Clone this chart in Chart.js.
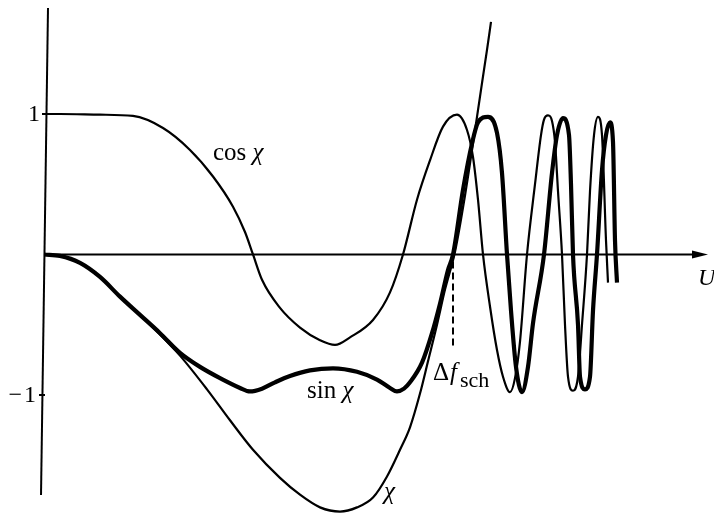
<!DOCTYPE html>
<html>
<head>
<meta charset="utf-8">
<script src="https://cdn.jsdelivr.net/npm/chart.js@4"></script>
<style>
  body { margin: 0; background: #fff; }
  #wrap { width: 714px; height: 522px; }
</style>
</head>
<body>
<div id="wrap"><canvas id="ctfChart" width="714" height="522"></canvas></div>
<script>
// values (U in arbitrary units)
const uChi = [0, 0.16, 0.36, 0.56, 0.76, 0.96, 1.16, 1.36, 1.63, 1.86, 2.09, 2.36, 2.56, 2.76, 2.96, 3.13, 3.29, 3.43, 3.56, 3.66, 3.76, 3.84, 3.93, 4.01, 4.11, 4.21, 4.33, 4.38, 4.43, 4.47];
const chi = [0, -0.01, -0.06, -0.16, -0.30, -0.43, -0.57, -0.72, -0.96, -1.18, -1.39, -1.59, -1.71, -1.80, -1.83, -1.80, -1.73, -1.58, -1.39, -1.23, -0.99, -0.76, -0.50, -0.25, 0.02, 0.42, 0.98, 1.22, 1.456, 1.655];

const uSin = [0, 0.16, 0.36, 0.56, 0.76, 0.96, 1.16, 1.36, 1.56, 1.76, 1.96, 2.06, 2.18, 2.31, 2.46, 2.66, 2.89, 3.13, 3.33, 3.46, 3.53, 3.60, 3.66, 3.78, 3.88, 3.96, 4.04, 4.09, 4.19, 4.28, 4.34, 4.44, 4.53, 4.58, 4.63, 4.67, 4.72, 4.78, 4.84, 4.89, 5.00, 5.08, 5.13, 5.19, 5.25, 5.27, 5.29, 5.34, 5.36, 5.41, 5.46, 5.49, 5.53, 5.58, 5.62, 5.66, 5.69, 5.71, 5.73];
const sinChi = [0, -0.01, -0.06, -0.16, -0.30, -0.43, -0.56, -0.70, -0.80, -0.88, -0.95, -0.975, -0.955, -0.91, -0.865, -0.825, -0.81, -0.835, -0.89, -0.95, -0.975, -0.955, -0.91, -0.77, -0.56, -0.35, -0.11, 0, 0.46, 0.79, 0.94, 0.98, 0.865, 0.58, 0, -0.40, -0.80, -0.98, -0.80, -0.49, 0, 0.58, 0.85, 0.97, 0.85, 0.5, 0, -0.5, -0.87, -0.96, -0.87, -0.4, 0, 0.6, 0.85, 0.94, 0.8, 0.1, -0.2];

const uCos = [0, 0.16, 0.56, 0.89, 1.19, 1.46, 1.69, 1.89, 2.01, 2.09, 2.18, 2.36, 2.56, 2.76, 2.91, 3.06, 3.29, 3.46, 3.59, 3.73, 3.86, 3.99, 4.13, 4.23, 4.29, 4.34, 4.39, 4.46, 4.53, 4.59, 4.66, 4.71, 4.76, 4.83, 4.91, 4.97, 5.00, 5.04, 5.08, 5.11, 5.14, 5.18, 5.21, 5.24, 5.29, 5.34, 5.38, 5.43, 5.46, 5.50, 5.54, 5.58, 5.62, 5.64];
const cosChi = [1.0, 1.0, 0.995, 0.986, 0.90, 0.744, 0.555, 0.34, 0.16, 0, -0.18, -0.38, -0.52, -0.61, -0.644, -0.59, -0.466, -0.27, 0, 0.39, 0.67, 0.91, 0.995, 0.886, 0.694, 0.39, 0, -0.37, -0.68, -0.87, -0.98, -0.88, -0.62, 0, 0.5, 0.85, 0.96, 0.99, 0.95, 0.80, 0.45, 0, -0.5, -0.87, -0.97, -0.87, -0.5, 0, 0.45, 0.85, 0.98, 0.85, 0.1, -0.2];

// Scherzer focus marker
const uSch = [4.09, 4.09];
const ySch = [-0.05, -0.665];

const yTicks = [1, -1];
const yTickLabels = ['1', '\u2212\u200A1'];

function pts(xs, ys) {
    return xs.map(function (x, i) { return { x: x, y: ys[i] }; });
}

const serif = '"Liberation Serif", "DejaVu Serif", serif';

const axesPlugin = {
    id: 'axesPlugin',
    beforeDatasetsDraw: function (chart) {
        const ctx = chart.ctx;
        const xs = chart.scales.x, ys = chart.scales.y;
        const x0 = xs.getPixelForValue(0);
        const y0 = ys.getPixelForValue(0);
        const xEnd = xs.getPixelForValue(6.64);
        ctx.save();
        ctx.strokeStyle = '#000';
        ctx.fillStyle = '#000';
        ctx.lineWidth = 2;
        // horizontal axis with arrow
        ctx.beginPath();
        ctx.moveTo(x0, y0);
        ctx.lineTo(xEnd - 10, y0);
        ctx.stroke();
        ctx.beginPath();
        ctx.moveTo(xEnd, y0);
        ctx.lineTo(xEnd - 16, y0 - 4);
        ctx.lineTo(xEnd - 16, y0 + 4);
        ctx.closePath();
        ctx.fill();
        // vertical axis (slightly tilted like the scan)
        ctx.beginPath();
        ctx.moveTo(x0 + 4, ys.getPixelForValue(1.754));
        ctx.lineTo(x0 - 3, ys.getPixelForValue(-1.712));
        ctx.stroke();
        // ticks and labels
        ctx.font = '24px ' + serif;
        ctx.textAlign = 'right';
        ctx.textBaseline = 'middle';
        yTicks.forEach(function (v, i) {
            const py = ys.getPixelForValue(v);
            const px = x0 + (v > 0 ? 1 : -2);
            ctx.beginPath();
            ctx.moveTo(px - 3, py);
            ctx.lineTo(px + 3, py);
            ctx.stroke();
            ctx.fillText(yTickLabels[i], px - (v > 0 ? 5 : 6), py + 1);
        });
        ctx.restore();
    },
    afterDatasetsDraw: function (chart) {
        const ctx = chart.ctx;
        ctx.save();
        ctx.fillStyle = '#000';
        ctx.textBaseline = 'alphabetic';
        ctx.textAlign = 'left';
        function label(parts, x, y) {
            parts.forEach(function (p) {
                ctx.font = p[1];
                ctx.fillText(p[0], x + (p[2] || 0), y + (p[3] || 0));
                x += ctx.measureText(p[0]).width + (p[2] || 0);
            });
        }
        const up = '25px ' + serif;
        const it = 'italic 25px ' + serif;
        label([['cos ', up], ['\u03C7', it]], 213, 160);
        label([['sin ', up], ['\u03C7', it]], 307, 398);
        label([['\u03C7', it]], 384, 499);
        label([['\u0394', up], ['f', it, 1], ['sch', '22px ' + serif, 3, 7]], 433, 380);
        label([['U', 'italic 24px ' + serif]], 698, 285);
        ctx.restore();
    }
};

new Chart(document.getElementById('ctfChart').getContext('2d'), {
    type: 'scatter',
    data: {
        datasets: [{
            label: 'cos χ',
            data: pts(uCos, cosChi),
            borderColor: '#000',
            borderWidth: 2.2,
            showLine: true,
            pointRadius: 0,
            cubicInterpolationMode: 'monotone'
        }, {
            label: 'χ',
            data: pts(uChi, chi),
            borderColor: '#000',
            borderWidth: 2.2,
            showLine: true,
            pointRadius: 0,
            cubicInterpolationMode: 'monotone'
        }, {
            label: 'sin χ',
            data: pts(uSin, sinChi),
            borderColor: '#000',
            borderWidth: 4.2,
            showLine: true,
            pointRadius: 0,
            cubicInterpolationMode: 'monotone'
        }, {
            label: 'Δf sch',
            data: pts(uSch, ySch),
            borderColor: '#000',
            borderWidth: 2,
            borderDash: [7, 4],
            showLine: true,
            pointRadius: 0
        }]
    },
    options: {
        responsive: false,
        animation: false,
        layout: { padding: { left: 44, right: 6, top: 4.4, bottom: 7.6 } },
        scales: {
            x: { type: 'linear', min: 0, max: 6.64, display: false },
            y: { type: 'linear', min: -1.85, max: 1.78, display: false }
        },
        plugins: {
            legend: { display: false },
            tooltip: { enabled: false }
        }
    },
    plugins: [axesPlugin]
});
</script>
</body>
</html>
